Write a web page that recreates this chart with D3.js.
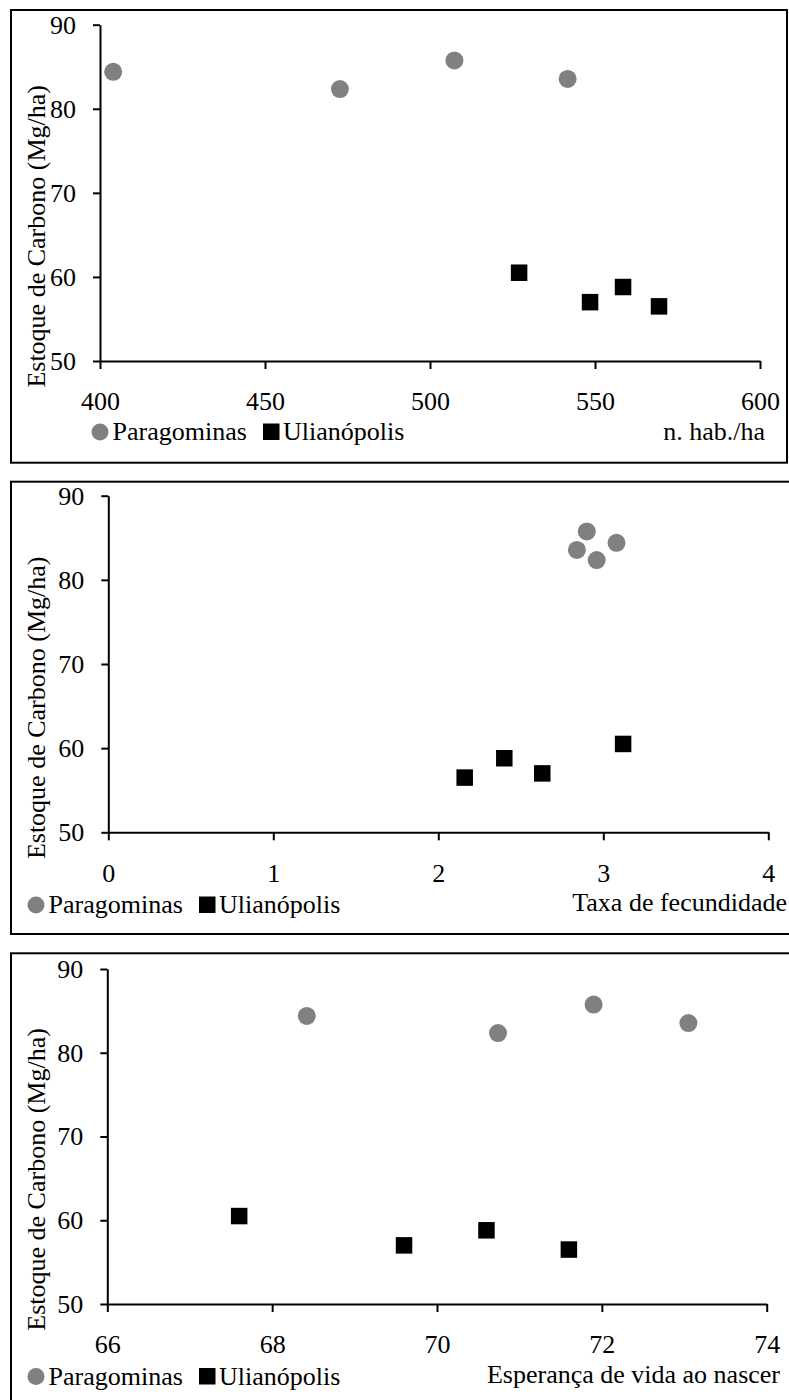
<!DOCTYPE html>
<html>
<head>
<meta charset="utf-8">
<script src="https://cdn.jsdelivr.net/npm/d3@7"></script>
<style>
  html, body { margin: 0; padding: 0; background: #fff; }
  svg { display: block; }
</style>
</head>
<body>
<svg id="chart" width="789" height="1400"></svg>
<script>
// Carbon stock (Mg/ha) per site
const carbonParagominas = [84.4, 82.35, 85.75, 83.55];
const carbonUlianopolis = [60.5, 57.0, 58.8, 56.5];

// Explanatory variables, same order as the carbon values
const habParagominas = [404, 472.7, 507.4, 541.7];
const habUlianopolis = [527, 548.5, 558.5, 569.4];
const fecParagominas = [3.08, 2.96, 2.90, 2.84];
const fecUlianopolis = [3.12, 2.63, 2.40, 2.16];
const vidaParagominas = [68.42, 70.74, 71.9, 73.05];
const vidaUlianopolis = [67.6, 69.6, 70.6, 71.6];

// Tick labels
const yTicks = [50, 60, 70, 80, 90];
const habTicks = [400, 450, 500, 550, 600];
const fecTicks = [0, 1, 2, 3, 4];
const vidaTicks = [66, 68, 70, 72, 74];

const seriesNames = ["Paragominas", "Ulianópolis"];
const yTitle = "Estoque de Carbono (Mg/ha)";
const xTitles = ["n. hab./ha", "Taxa de fecundidade", "Esperança de vida ao nascer"];

const GREY = "#808080";
const FONT = 26;
const FAMILY = '"Liberation Serif", "Times New Roman", Times, serif';

const svg = d3.select("#chart")
  .attr("font-family", FAMILY)
  .style("font-family", FAMILY);

function label(sel) {
  return sel.attr("font-family", FAMILY)
    .style("font-family", FAMILY)
    .style("font-size", FONT + "px")
    .attr("fill", "#000");
}

const panels = [
  {
    frame: { x: 11, y: 10, w: 776, h: 452.7 },
    plot: { left: 100, right: 760, top: 24.7, bottom: 361 },
    xTicks: habTicks, xa: habParagominas, xb: habUlianopolis,
    title: xTitles[0], titleX: 765, titleY: 440,
    legend: { x: 100, y: 432 }
  },
  {
    frame: { x: 11, y: 481.7, w: 790, h: 452.3 },
    plot: { left: 108.3, right: 768.3, top: 495.7, bottom: 832.3 },
    xTicks: fecTicks, xa: fecParagominas, xb: fecUlianopolis,
    title: xTitles[1], titleX: 787, titleY: 911,
    legend: { x: 36, y: 905 }
  },
  {
    frame: { x: 11, y: 953.3, w: 790, h: 452.3 },
    plot: { left: 107.3, right: 766.7, top: 969, bottom: 1304 },
    xTicks: vidaTicks, xa: vidaParagominas, xb: vidaUlianopolis,
    title: xTitles[2], titleX: 780, titleY: 1383,
    legend: { x: 36, y: 1376.5 }
  }
];

panels.forEach(p => {
  const g = svg.append("g");

  // outer chart frame
  g.append("rect")
    .attr("x", p.frame.x).attr("y", p.frame.y)
    .attr("width", p.frame.w).attr("height", p.frame.h)
    .attr("fill", "none").attr("stroke", "#000").attr("stroke-width", 2);

  const x = d3.scaleLinear()
    .domain(d3.extent(p.xTicks))
    .range([p.plot.left, p.plot.right]);
  const y = d3.scaleLinear()
    .domain(d3.extent(yTicks))
    .range([p.plot.bottom, p.plot.top]);

  // axes
  const xAxis = g.append("g")
    .attr("transform", `translate(0,${p.plot.bottom})`)
    .call(d3.axisBottom(x).tickValues(p.xTicks).tickFormat(d3.format("d"))
      .tickSize(8).tickPadding(23).tickSizeOuter(0));
  const yAxis = g.append("g")
    .attr("transform", `translate(${p.plot.left},0)`)
    .call(d3.axisLeft(y).tickValues(yTicks).tickFormat(d3.format("d"))
      .tickSize(7).tickPadding(17).tickSizeOuter(0));

  [xAxis, yAxis].forEach(a => {
    a.attr("font-family", FAMILY).attr("font-size", FONT);
    a.select(".domain").attr("stroke", "#000").attr("stroke-width", 2);
    a.selectAll(".tick line").attr("stroke", "#000").attr("stroke-width", 2);
    label(a.selectAll(".tick text"));
  });

  // y axis title, centred on the frame
  const cy = p.frame.y + p.frame.h / 2;
  label(g.append("text"))
    .attr("transform", `translate(45,${cy}) rotate(-90)`)
    .attr("text-anchor", "middle")
    .text(yTitle);

  // x axis title
  label(g.append("text"))
    .attr("x", p.titleX).attr("y", p.titleY)
    .attr("text-anchor", "end")
    .text(p.title);

  // Paragominas: grey circles
  g.selectAll("circle.pa")
    .data(d3.zip(p.xa, carbonParagominas))
    .join("circle")
    .attr("class", "pa")
    .attr("cx", d => x(d[0])).attr("cy", d => y(d[1]))
    .attr("r", 9).attr("fill", GREY);

  // Ulianópolis: black squares
  const S = 16.5;
  g.selectAll("rect.ul")
    .data(d3.zip(p.xb, carbonUlianopolis))
    .join("rect")
    .attr("class", "ul")
    .attr("x", d => x(d[0]) - S / 2).attr("y", d => y(d[1]) - S / 2)
    .attr("width", S).attr("height", S).attr("fill", "#000");

  // legend
  const lg = g.append("g").attr("transform", `translate(${p.legend.x},${p.legend.y})`);
  lg.append("circle").attr("cx", 0).attr("cy", 0).attr("r", 8.5).attr("fill", GREY);
  label(lg.append("text")).attr("x", 12.5).attr("y", 8).text(seriesNames[0]);
  lg.append("rect").attr("x", 163).attr("y", -8.5).attr("width", 16.5).attr("height", 16.5).attr("fill", "#000");
  label(lg.append("text")).attr("x", 183).attr("y", 8).text(seriesNames[1]);
});
</script>
</body>
</html>
